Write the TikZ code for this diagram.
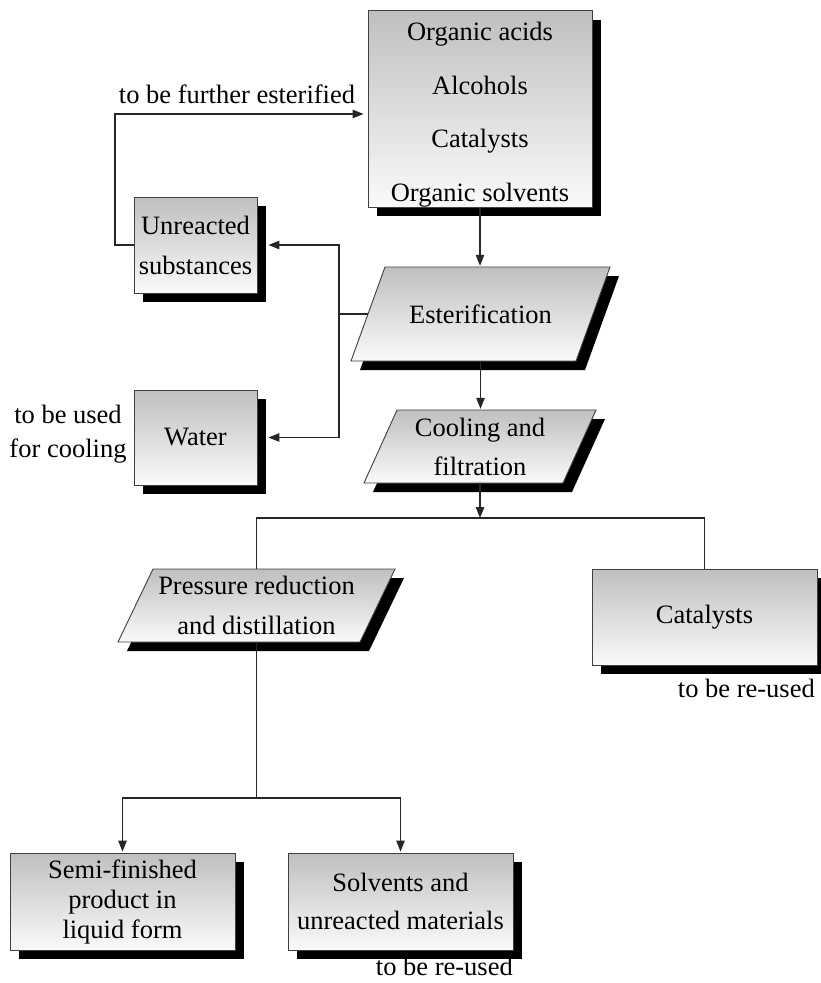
\documentclass[tikz,border=0pt]{standalone}
\usepackage{fontspec}
\setmainfont{Liberation Serif}
\usetikzlibrary{shadows,arrows.meta}
\begin{document}
\begin{tikzpicture}[x=1pt,y=-1pt,
  every node/.style={font=\fontsize{26.5}{40}\selectfont},
  shp/.style={draw=black!75, line width=0.9pt, top color=black!25, bottom color=black!2,
     drop shadow={shadow xshift=9pt, shadow yshift=-9pt, fill=black, opacity=1}},
  box/.style={shp, rectangle, inner sep=0pt, align=center},
  ptext/.style={rectangle, inner sep=0pt, align=center},
  line/.style={draw=black!85, line width=1.1pt},
  arr/.style={line, -{Triangle[length=11pt,width=8.5pt]}, shorten >=1pt},
  lbl/.style={inner sep=0pt, align=center}
]
\useasboundingbox (0,0) rectangle (821,983);

% boxes
\node[box, minimum width=224pt, minimum height=196pt, font=\fontsize{26.5}{53.5}\selectfont] (src) at (480,109) {\rule{0pt}{30pt}Organic acids\\Alcohols\\Catalysts\\Organic solvents};
\node[box, minimum width=123pt, minimum height=96pt] (unre) at (195.5,245) {Unreacted\\substances};
\node[box, minimum width=123pt, minimum height=95pt] (water) at (195.5,437.5) {Water};
\node[box, minimum width=225pt, minimum height=96pt] (cat) at (704.5,617) {Catalysts};
\node[box, minimum width=225pt, minimum height=97pt, font=\fontsize{26.5}{30}\selectfont] (semi) at (122.5,901.5) {Semi-finished\\product in\\liquid form};
\node[box, minimum width=225pt, minimum height=97pt, font=\fontsize{26.5}{38}\selectfont] (solv) at (400.5,901.5) {Solvents and\\unreacted materials};

% parallelograms
\path[shp] (385,267) -- (610,267) -- (576,361) -- (351,361) -- cycle;
\node[ptext, minimum width=259pt, minimum height=94pt] (est) at (480.5,314) {Esterification};
\coordinate (estL) at (368,314);

\path[shp] (397,410) -- (596,410) -- (563,483) -- (364,483) -- cycle;
\node[ptext, minimum width=232pt, minimum height=73pt, font=\fontsize{26.5}{39}\selectfont] (cool) at (480,446.5) {Cooling and\\filtration};

\path[shp] (153,569) -- (395,569) -- (360,642) -- (118,642) -- cycle;
\node[ptext, minimum width=277pt, minimum height=73pt] (pres) at (256.5,605.5) {Pressure reduction\\and distillation};

% labels
\node[lbl, anchor=base] (lb1) at (237,103) {to be further esterified};
\node[lbl, font=\fontsize{26.5}{34}\selectfont] (lb2) at (68,434) {to be used\\for cooling};
\node[lbl, anchor=base east] (lb3) at (815,697) {to be re-used};
\node[lbl, anchor=base east] (lb4) at (513,975) {to be re-used};

% connectors
\draw[arr] (src.south) -- (src.south |- est.north);
\draw[arr] (est.south) -- (est.south |- cool.north);
\coordinate (jn) at (480,518);
\draw[arr, shorten >=0pt] (cool.south) -- (jn);
\draw[line] (pres.north) -- (pres.north |- jn) -- (cat.north |- jn) -- (cat.north);
\coordinate (jb) at (256.5,798);
\draw[line] (pres.south) -- (jb);
\draw[arr] (jb) -| (semi.north);
\draw[arr] (jb) -| (solv.north);

\coordinate (bus) at (339,314);
\draw[line] (estL) -- (bus);
\draw[arr] (bus) |- ([xshift=10pt]unre.east);
\draw[arr] (bus) |- ([xshift=10pt]water.east);
\coordinate (topy) at (115,114);
\draw[arr, shorten >=4pt] (unre.west) -| (topy) -- (src.west |- topy);
\end{tikzpicture}
\end{document}
